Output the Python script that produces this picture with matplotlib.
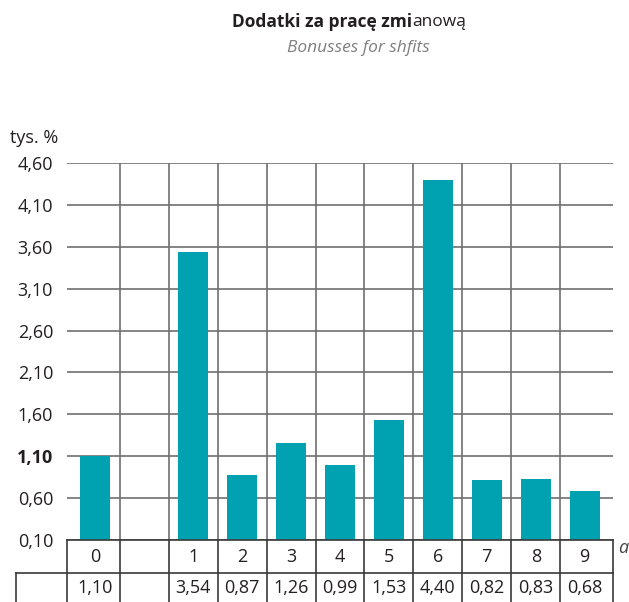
import matplotlib
matplotlib.use("Agg")
import matplotlib.pyplot as plt
import matplotlib.transforms as mtransforms

plt.rcParams['font.family'] = ['Open Sans', 'DejaVu Sans']

categories = ['0', '', '1', '2', '3', '4', '5', '6', '7', '8', '9']
values = [1.10, None, 3.54, 0.87, 1.26, 0.99, 1.53, 4.40, 0.82, 0.83, 0.68]
value_labels = ['1,10', '', '3,54', '0,87', '1,26', '0,99', '1,53', '4,40', '0,82', '0,83', '0,68']
yticks = [0.10, 0.60, 1.10, 1.60, 2.10, 2.60, 3.10, 3.60, 4.10, 4.60]
ytick_labels = ['0,10', '0,60', '1,10', '1,60', '2,10', '2,60', '3,10', '3,60', '4,10', '4,60']

bar_color = '#00a1b1'
grid_color = '#707070'
table_color = '#3a3a3a'
text_color = '#231f20'
fs = 13

W, H = 629, 602
fig = plt.figure(figsize=(W / 100, H / 100), dpi=100)
ax = fig.add_axes([67 / W, (H - 540) / H, (613 - 67) / W, (540 - 163) / H])

n = len(categories)
ax.set_xlim(-0.08, n + 0.08)
ax.set_ylim(yticks[0], yticks[-1])

for i, v in enumerate(values):
    if v is not None:
        ax.bar(i + 0.5, v - yticks[0], bottom=yticks[0], width=0.61,
               color=bar_color, zorder=3)

# grid
for y in yticks:
    ax.axhline(y, color=grid_color, lw=1.2, zorder=2)
for x in range(1, n):
    ax.axvline(x, color=grid_color, lw=1.2, zorder=2)

for s in ax.spines.values():
    s.set_visible(False)
ax.set_xticks([])
ax.set_yticks(yticks)
ax.set_yticklabels(ytick_labels)
ax.tick_params(axis='y', length=0, pad=10, labelsize=fs, labelcolor=text_color)
for lbl in ax.get_yticklabels():
    if lbl.get_text() == '1,10':
        lbl.set_fontweight('bold')

tr = mtransforms.blended_transform_factory(ax.transData, ax.transAxes)
ph = 540 - 163

ax.text(-0.26, (540 - 143) / ph, 'tys. %', transform=tr,
        ha='right', va='baseline', fontsize=fs, color=text_color)

# table below
r1 = -33 / ph
r2 = -80 / ph
left2 = -1.12
x0, x1 = -0.08, n + 0.08
edges = [x0] + list(range(1, n)) + [x1]

ax.plot([x0, x1], [0, 0], color=table_color, lw=1.2, transform=tr, clip_on=False, zorder=4)
ax.plot([left2, x1], [r1, r1], color=table_color, lw=1.2, transform=tr, clip_on=False)
for e in edges:
    ax.plot([e, e], [0, r1], color=table_color, lw=1.2, transform=tr, clip_on=False)
for e in [left2] + edges:
    ax.plot([e, e], [r1, r2], color=table_color, lw=1.2, transform=tr, clip_on=False)

for i, (c, vl) in enumerate(zip(categories, value_labels)):
    ax.text(i + 0.5, r1 / 2, c, transform=tr, ha='center', va='center',
            fontsize=fs, color=text_color)
    ax.text(i + 0.5, r1 - 15 / ph, vl, transform=tr, ha='center', va='center',
            fontsize=fs, color=text_color)

ax.text(x1 + 0.1, -8 / ph, 'a', transform=tr, ha='left', va='center',
        fontsize=fs, style='italic', color='#444444')

# titles
fig.text(412 / W, 1 - 22 / H, 'Dodatki za pracę zmi', ha='right', va='center',
         fontsize=12.5, fontweight='bold', color=text_color)
fig.text(412 / W, 1 - 22 / H, 'anową', ha='left', va='center',
         fontsize=12.5, color=text_color)
fig.text(358 / W, 1 - 48 / H, 'Bonusses for shfits', ha='center', va='center',
         fontsize=12.5, style='italic', color='#7f7f7f')

fig.savefig('out.png', dpi=100)
